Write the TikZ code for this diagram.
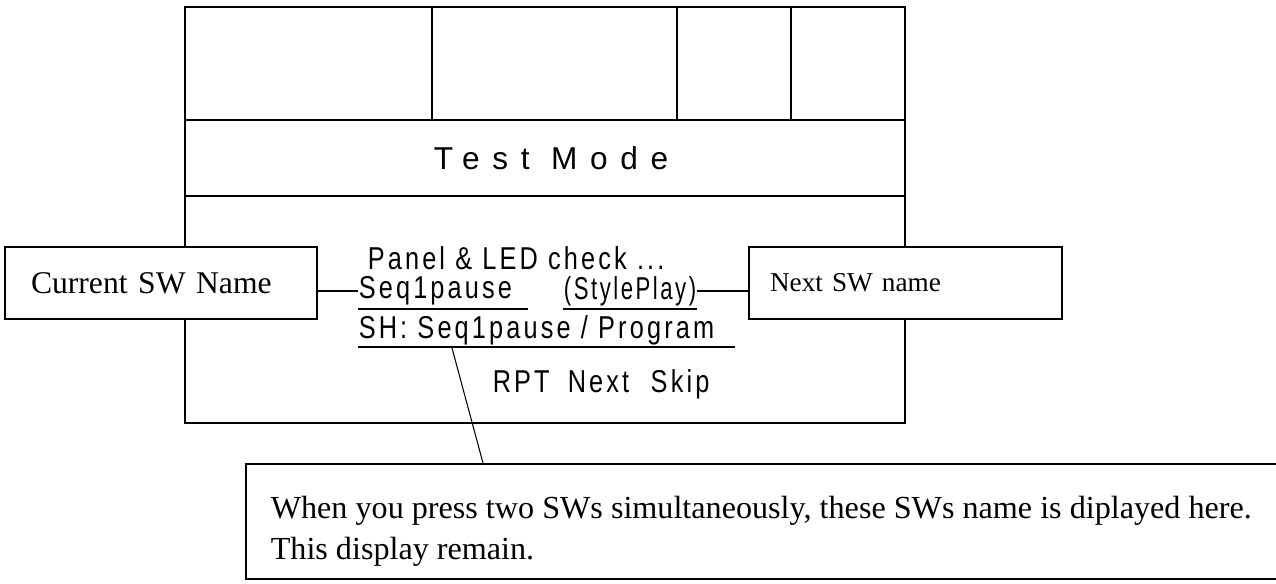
\documentclass[tikz,border=0pt]{standalone}
\usepackage{fontspec}
\setmainfont{Liberation Serif}
\newfontfamily\lcdfont[FakeStretch=0.8,LetterSpace=10]{Liberation Sans}
\newfontfamily\lcdnarrow[FakeStretch=0.7,LetterSpace=8]{Liberation Sans}
\newfontfamily\lcdwide[LetterSpace=40]{Liberation Sans}
\usetikzlibrary{positioning,calc}
\tikzset{
  namebox/.style={draw,fill=white,line width=0.9pt,align=left,inner ysep=0pt,minimum height=1.44cm},
  lcdtext/.style={font=\lcdfont\fontsize{18}{21}\selectfont,inner sep=0pt,anchor=west}
}

\begin{document}
\begin{tikzpicture}[x=0.02cm,y=-0.02cm,line width=0.9pt]
  \useasboundingbox (0,0) rectangle (1276,583);
  \draw (185,7) rectangle (905,423);
  \draw (185,120) -- (905,120);
  \draw (185,196) -- (905,196);
  \foreach \x in {432,677,791} \draw (\x,7) -- (\x,120);
  \node[font=\lcdwide\fontsize{18}{22}\selectfont] (mode) at (551,158) {Test Mode};
  \node[lcdtext] (chk) at (367,258) {Panel \& LED check ...};
  \node[lcdtext] (seq) at (358,291) {Seq1pause};
  \node[lcdtext,font=\lcdnarrow\fontsize{18}{21}\selectfont,anchor=east] (sty) at (697,291) {(StylePlay)};
  \node[lcdtext] (sh) at (358,330) {SH: Seq1pause / Program};
  \node[lcdtext] (keys) at (492,384) {\makebox[1.5cm][l]{RPT}\makebox[1.66cm][l]{Next}Skip};
  \draw (358,309) -- (528,309);
  \draw (563,309) -- (697,309);
  \draw (358,347) -- (735,347);
  \node[namebox,text width=5.2cm,inner xsep=0.52cm,font=\fontsize{18}{22}\selectfont] (cur) at (161,283) {Current SW Name};
  \node[namebox,text width=5.42cm,inner xsep=0.42cm,font=\fontsize{15.5}{19}\selectfont] (nxt) at (905.5,283) {Next SW name};
  \node[draw,minimum width=20.8cm,minimum height=2.3cm,anchor=north west,inner sep=0pt] (note) at (245,463) {};
  \node[anchor=west,align=left,inner sep=0pt,font=\fontsize{18.3}{23.3}\selectfont] (msg) at (270,531) {When you press two SWs simultaneously, these SWs name is diplayed here.\\This display remain.};
  \coordinate (shp) at (452,348);
  \draw[line width=0.6pt] (cur.east |- seq.west) -- (seq.west);
  \draw[line width=0.6pt] (sty.east) -- (sty.east -| nxt.west);
  \draw[line width=0.6pt] (shp) -- ($(note.north west)+(238,0)$);
\end{tikzpicture}
\end{document}
